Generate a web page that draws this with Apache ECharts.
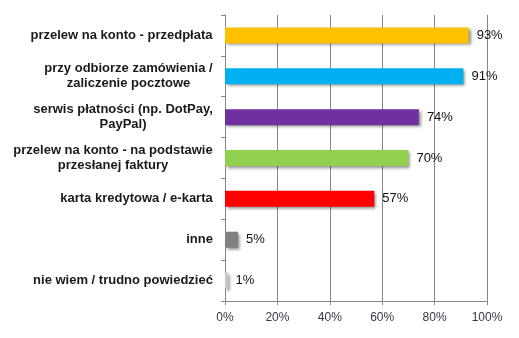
<!DOCTYPE html>
<html><head><meta charset="utf-8">
<script src="https://cdn.jsdelivr.net/npm/echarts@6/dist/echarts.min.js"></script>
<style>html,body{margin:0;padding:0;background:#fff}#c{width:519px;height:338px}</style>
</head><body><div id="c"></div>
<script>
const categories = [
  ["przelew na konto - przedpłata"],
  ["przy odbiorze zamówienia /", "zaliczenie pocztowe"],
  ["serwis płatności (np. DotPay,", "PayPal)"],
  ["przelew na konto - na podstawie", "przesłanej faktury"],
  ["karta kredytowa / e-karta"],
  ["inne"],
  ["nie wiem / trudno powiedzieć"]
];
const values = [93, 91, 74, 70, 57, 5, 1];
const colors = ["#FFC000", "#00B0F0", "#7030A0", "#92D050", "#FF0000", "#808080", "#C8C8C8"];
const xTicks = [0, 20, 40, 60, 80, 100];

const FONT = "Liberation Sans, Arial, sans-serif";
const FS = 12;
const CFS = 13;
const ctx = document.createElement("canvas").getContext("2d");
ctx.font = "bold " + CFS + "px " + FONT;
const rich = {};
categories.forEach((lines, i) => {
  const w = Math.max(...lines.map(l => ctx.measureText(l).width));
  rich["r" + i] = { width: Math.ceil(w), align: "center", fontSize: CFS, fontWeight: "bold", fontFamily: FONT, color: "#1a1a1a", lineHeight: 15 };
});
const catNames = categories.map((l, i) => "c" + i);

const chart = echarts.init(document.getElementById("c"), null, { renderer: "canvas" });
chart.setOption({
  animation: false,
  grid: { left: 225, right: 32, top: 15, bottom: 37 },
  xAxis: {
    type: "value", min: 0, max: 100, interval: 20,
    axisLine: { show: true, lineStyle: { color: "#868686" } },
    axisTick: { show: true, length: 4, lineStyle: { color: "#868686" } },
    splitLine: { show: true, lineStyle: { color: "#868686", width: 1 } },
    axisLabel: { formatter: v => v + "%", color: "#383848", fontSize: FS, fontFamily: FONT, margin: 11 }
  },
  yAxis: {
    type: "category", inverse: true, data: catNames,
    axisLine: { show: true, lineStyle: { color: "#868686" } },
    axisTick: { show: true, length: 4, lineStyle: { color: "#868686" } },
    axisLabel: {
      align: "right", margin: 12,
      formatter: (v, i) => categories[i].map(l => "{r" + i + "|" + l + "}").join("\n"),
      rich: rich
    }
  },
  series: [{
    type: "bar", barWidth: 16,
    data: values.map((v, i) => ({ value: v, itemStyle: { color: colors[i] } })),
    itemStyle: { shadowColor: "rgba(0,0,0,0.45)", shadowBlur: 3, shadowOffsetX: 2, shadowOffsetY: 2 },
    label: { show: true, position: "right", distance: 8, formatter: p => p.value + "%", color: "#111", fontSize: 13, fontFamily: FONT }
  }]
});
</script></body></html>
